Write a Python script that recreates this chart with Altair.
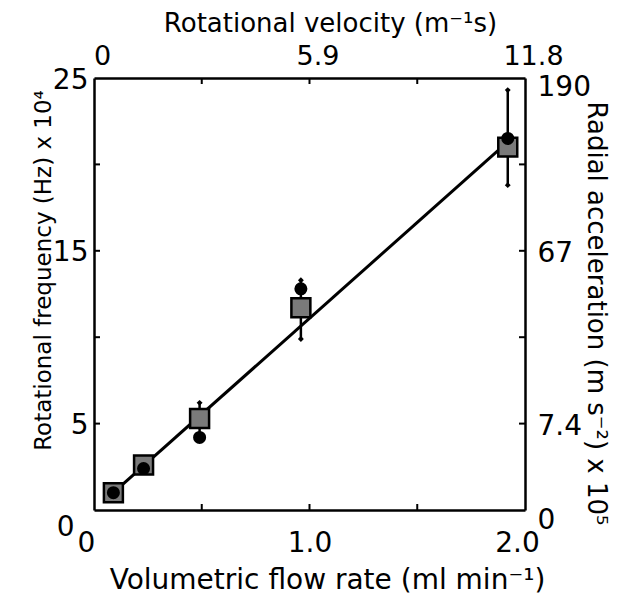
import altair as alt
import pandas as pd

# ---- data ----
flow = [0.09, 0.23, 0.49, 0.96, 1.92]
freq_square = [1.0, 2.6, 5.3, 11.7, 21.0]
freq_circle = [1.0, 2.4, 4.2, 12.8, 21.5]
err_flow = [0.49, 0.96, 1.92]
err_low = [4.4, 9.9, 18.8]
err_high = [6.2, 13.3, 24.3]
fit_flow = [0.09, 1.92]
fit_freq = [1.0, 21.3]

x_ticks = [0, 0.5, 1.0, 1.5, 2.0]
bottom_labels = ["0", "", "1.0", "", "2.0"]
top_labels = ["0", "", "5.9", "", "11.8"]
y_ticks = [0, 5, 10, 15, 20, 25]
left_labels = ["0", "5", "", "15", "", "25"]
right_labels = ["0", "7.4", "", "67", "", "190"]
x_inner_ticks = [0.5, 1.0, 1.5]
y_inner_ticks = [5, 10, 15, 20]

W, H = 431, 432
FONT = "DejaVu Sans"


def label_expr(vals, labels):
    expr = "''"
    for v, lab in zip(vals, labels):
        if lab:
            expr = f"datum.value == {v} ? '{lab}' : " + expr
    return expr


xs = alt.Scale(domain=[0, 2], nice=False, zero=False)
ys = alt.Scale(domain=[0, 25], nice=False, zero=False)

common = dict(grid=False, ticks=False, tickSize=0, domainColor="black", domainWidth=2.5,
              labelFontSize=28, labelFlush=False, labelOverlap=False, labelColor="black",
              titleColor="black", titleFontWeight="normal", labelFont=FONT, titleFont=FONT)

bottom_axis = alt.Axis(orient="bottom", values=x_ticks, labelExpr=label_expr(x_ticks, bottom_labels),
                       labelPadding=19,
                       labelOffset={"condition": {"test": "datum.value == 0 || datum.value == 2", "value": -8}, "value": 0},
                       title="Volumetric flow rate (ml min⁻¹)", titleFontSize=28,
                       titleX=233, titleY=78, titleAlign="center", titleBaseline="alphabetic", **common)
top_common = dict(common)
top_common["labelFontSize"] = 27
top_axis = alt.Axis(orient="top", values=x_ticks, labelExpr=label_expr(x_ticks, top_labels),
                    labelPadding=8, labelOffset=8,
                    title="Rotational velocity (m⁻¹s)", titleFontSize=26,
                    titleX=236, titleY=-47, titleAlign="center", titleBaseline="alphabetic", **top_common)
left_axis = alt.Axis(orient="left", values=y_ticks, labelExpr=label_expr(y_ticks, left_labels),
                     labelPadding={"condition": {"test": "datum.value == 0", "value": 20}, "value": 6},
                     labelOffset={"condition": {"test": "datum.value == 0", "value": 17}, "value": 2},
                     title="Rotational frequency (Hz) x 10⁴", titleFontSize=23, titleAngle=270,
                     titleX=-44, titleY=192, titleAlign="center", titleBaseline="alphabetic", **common)
right_axis = alt.Axis(orient="right", values=y_ticks, labelExpr=label_expr(y_ticks, right_labels),
                      labelPadding=12,
                      labelOffset={"condition": [{"test": "datum.value == 0", "value": 10},
                                                 {"test": "datum.value == 25", "value": 9}],
                                   "value": 3},
                      title="Radial acceleration (m s⁻²) x 10⁵", titleFontSize=26, titleAngle=90,
                      titleX=62, titleY=235, titleAlign="center", titleBaseline="alphabetic", **common)


def X(field, axis=bottom_axis):
    return alt.X(field, type="quantitative", scale=xs, axis=axis)


def Y(field, axis=left_axis):
    return alt.Y(field, type="quantitative", scale=ys, axis=axis)


pts = pd.DataFrame({"flow": flow, "sq": freq_square, "ci": freq_circle})
err = pd.DataFrame({"flow": err_flow, "lo": err_low, "hi": err_high})
fit = pd.DataFrame({"flow": fit_flow, "freq": fit_freq})
xt = pd.DataFrame({"v": x_inner_ticks})
yt = pd.DataFrame({"v": y_inner_ticks})

line = alt.Chart(fit).mark_line(color="black", strokeWidth=3).encode(x=X("flow"), y=Y("freq"))
bars = alt.Chart(err).mark_rule(color="black", strokeWidth=2.5).encode(
    x=X("flow"), y=Y("lo"), y2="hi")
cap_lo = alt.Chart(err).mark_point(shape="diamond", filled=True, size=35, color="black", opacity=1).encode(
    x=X("flow"), y=Y("lo"))
cap_hi = alt.Chart(err).mark_point(shape="diamond", filled=True, size=35, color="black", opacity=1).encode(
    x=X("flow"), y=Y("hi"))
squares = alt.Chart(pts).mark_square(size=360, fill="#7a7a7a", stroke="black", strokeWidth=2.5,
                                     opacity=1).encode(x=X("flow"), y=Y("sq"))
circles = alt.Chart(pts).mark_circle(size=170, color="black", opacity=1).encode(x=X("flow"), y=Y("ci"))

tick_b = alt.Chart(xt).mark_rule(color="black", strokeWidth=2).encode(
    x=X("v"), y=alt.value(H - 6), y2=alt.value(H))
tick_l = alt.Chart(yt).mark_rule(color="black", strokeWidth=2).encode(
    y=Y("v"), x=alt.value(0), x2=alt.value(6))
tick_t = alt.Chart(xt).mark_rule(color="black", strokeWidth=2).encode(
    x=X("v", top_axis), y=alt.value(0), y2=alt.value(6))
tick_r = alt.Chart(yt).mark_rule(color="black", strokeWidth=2).encode(
    y=Y("v", right_axis), x=alt.value(W - 6), x2=alt.value(W))

main = alt.layer(line, bars, cap_lo, cap_hi, squares, circles, tick_b, tick_l)
frame = alt.layer(tick_t, tick_r)

chart = alt.layer(main, frame).resolve_axis(x="independent", y="independent").properties(
    width=W, height=H,
    autosize=alt.AutoSizeParams(type="none"),
    padding={"left": 86, "top": 70, "right": 85, "bottom": 84},
).configure_view(stroke=None).configure(font=FONT, background="white")

chart.save("out.html", embed_options={"renderer": "svg", "actions": False})
